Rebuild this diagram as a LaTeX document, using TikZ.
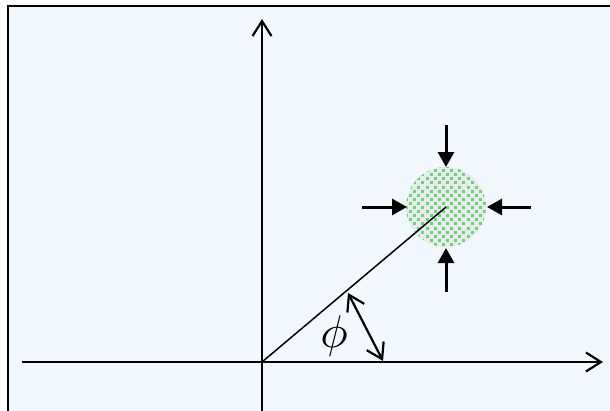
\documentclass[tikz,border=0pt]{standalone}
\usetikzlibrary{arrows.meta}
\definecolor{bgblue}{RGB}{243,248,255}
\definecolor{dotgreen}{RGB}{108,212,122}
\definecolor{circgray}{RGB}{232,236,236}
\begin{document}
\begin{tikzpicture}[x=1pt,y=-1pt,
  axis/.style={line width=2.2pt,-{Straight Barb[length=15pt,width=19pt,line width=2.2pt]}},
  push/.style={line width=3pt,-{Triangle[length=15pt,width=16pt]}},
  radial/.style={line width=1.5pt},
  anglearrow/.style={line width=2.2pt,{Straight Barb[length=15pt,width=19pt,line width=2.2pt]}-{Straight Barb[length=15pt,width=19pt,line width=2.2pt]}}]
\useasboundingbox (0,0) rectangle (610,410);
\fill[white] (0,0) rectangle (610,410);
\draw[line width=2.2pt,fill=bgblue] (8,6) rectangle (614,414);
% coordinates
\coordinate (O) at (262,362);
\coordinate (xl) at (22,362);
\coordinate (xr) at (603,362);
\coordinate (yb) at (262,412);
\coordinate (yt) at (262,19);
\coordinate (C) at (446,207);
% particle
\begin{scope}
  \clip (C) circle (40);
  \fill[circgray] (C) circle (40);
  \foreach \i in {0,...,20}{
    \foreach \j in {0,...,10}{
      \pgfmathsetmacro{\xx}{405+\i*4.1}
      \pgfmathsetmacro{\yy}{165+(2*\j+mod(\i,2))*4.1}
      \fill[dotgreen] (\xx,\yy) rectangle ++(3,3);
    }
  }
\end{scope}
% axes
\draw[axis] (xl) -- (xr);
\draw[axis] (yb) -- (yt);
% radial line
\draw[radial] (O) -- (C);
% compression arrows
\coordinate (tA) at (446,125);
\coordinate (tB) at (446,167);
\coordinate (bA) at (446,292);
\coordinate (bB) at (446,248);
\coordinate (lA) at (362,207);
\coordinate (lB) at (407,207);
\coordinate (rA) at (531,207);
\coordinate (rB) at (487,207);
\draw[push] (tA) -- (tB);
\draw[push] (bA) -- (bB);
\draw[push] (lA) -- (lB);
\draw[push] (rA) -- (rB);
% angle
\coordinate (a1) at (348,293);
\coordinate (a2) at (383,361);
\draw[anglearrow] (a1) -- (a2);
\node[scale=4.6] (phi) at (334,336) {$\phi$};
\end{tikzpicture}
\end{document}
